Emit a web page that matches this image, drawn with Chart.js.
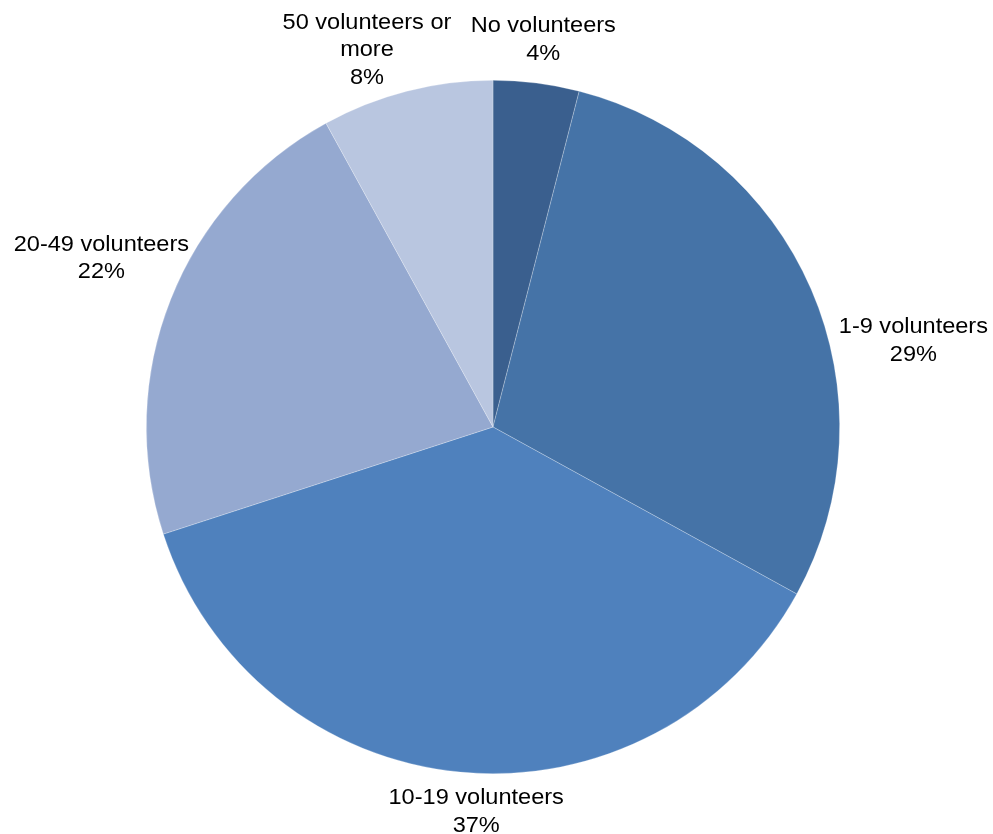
<!DOCTYPE html>
<html>
<head>
<meta charset="utf-8">
<script src="https://cdn.jsdelivr.net/npm/chart.js@4/dist/chart.umd.min.js"></script>
<style>
  html, body { margin: 0; padding: 0; background: #ffffff; }
  #wrap { width: 993px; height: 834px; }
</style>
</head>
<body>
<div id="wrap"><canvas id="pie" width="993" height="834"></canvas></div>
<script>
// Share of organisations by number of volunteers
const categories = ['No volunteers', '1-9 volunteers', '10-19 volunteers', '20-49 volunteers', '50 volunteers or more'];
const shares = [4, 29, 37, 22, 8];
const sliceColors = ['#3A5F8E', '#4573A7', '#4F81BD', '#95A9D0', '#B9C6E0'];

// Label placement around the pie: angle nudge (degrees) and distance as a multiple of the radius
const labelPlacement = [
  { dAngle: 0.2, dist: 1.126 },
  { dAngle: 11.8, dist: 1.238 },
  { dAngle: -2.9, dist: 1.111 },
  { dAngle: 1.7, dist: 1.230 },
  { dAngle: -4.1, dist: 1.146 }
];

const FONT_SIZE = 22;
const LINE_HEIGHT = 27.5;
const STRETCH = 1.07;
const WRAP_WIDTH = 190;

function wrapWords(ctx, text) {
  const words = text.split(' ');
  const lines = [];
  let cur = '';
  for (const w of words) {
    const test = cur ? cur + ' ' + w : w;
    if (cur && ctx.measureText(test).width * STRETCH > WRAP_WIDTH) {
      lines.push(cur);
      cur = w;
    } else {
      cur = test;
    }
  }
  if (cur) lines.push(cur);
  return lines;
}

const outsideLabels = {
  id: 'outsideLabels',
  afterDatasetsDraw(chart) {
    const ctx = chart.ctx;
    const meta = chart.getDatasetMeta(0);
    ctx.save();
    ctx.font = FONT_SIZE + 'px "Liberation Sans", Arial, sans-serif';
    ctx.fillStyle = '#000000';
    ctx.textAlign = 'center';
    ctx.textBaseline = 'middle';
    meta.data.forEach((arc, i) => {
      const p = arc.getProps(['x', 'y', 'startAngle', 'endAngle', 'outerRadius'], true);
      const mid = (p.startAngle + p.endAngle) / 2 + labelPlacement[i].dAngle * Math.PI / 180;
      const r = p.outerRadius * labelPlacement[i].dist;
      const cx = p.x + Math.cos(mid) * r;
      const cy = p.y + Math.sin(mid) * r;
      const lines = wrapWords(ctx, categories[i]);
      lines.push(shares[i] + '%');
      const n = lines.length;
      lines.forEach((line, k) => {
        const ly = cy + (k - (n - 1) / 2) * LINE_HEIGHT;
        ctx.save();
        ctx.translate(cx, ly);
        ctx.scale(STRETCH, 1);
        ctx.fillText(line, 0, 0);
        ctx.restore();
      });
    });
    ctx.restore();
  }
};

new Chart(document.getElementById('pie'), {
  type: 'pie',
  data: {
    labels: categories,
    datasets: [{
      data: shares,
      backgroundColor: sliceColors,
      borderColor: 'rgba(255,255,255,0.35)',
      borderWidth: 0.7
    }]
  },
  options: {
    responsive: false,
    animation: false,
    rotation: 0,
    layout: { padding: { top: 80, bottom: 60, left: 146, right: 153 } },
    plugins: {
      legend: { display: false },
      tooltip: { enabled: false },
      title: { display: false }
    }
  },
  plugins: [outsideLabels]
});
</script>
</body>
</html>
